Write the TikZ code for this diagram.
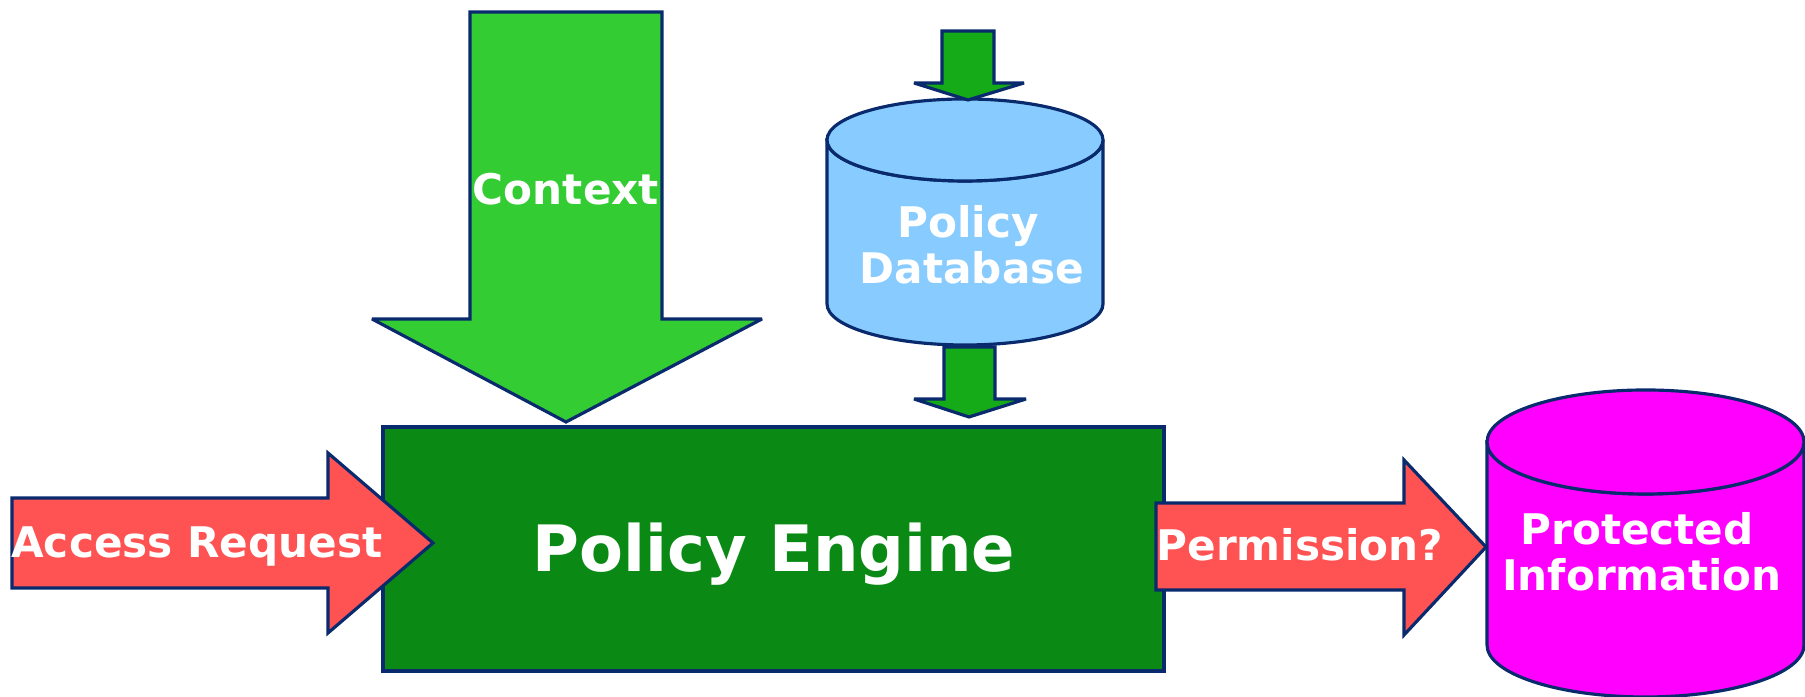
\documentclass[tikz,border=0pt]{standalone}
\usepackage{fontspec}
\setmainfont{DejaVu Sans}
\usetikzlibrary{calc}

\definecolor{edgeblue}{HTML}{0A2A6E}
\definecolor{enginegreen}{HTML}{0A8A14}
\definecolor{ctxgreen}{HTML}{33CC33}
\definecolor{feedgreen}{HTML}{14AA18}
\definecolor{reqred}{HTML}{FF5252}
\definecolor{dbblue}{HTML}{88CCFF}
\definecolor{infomagenta}{HTML}{FF00FF}

\tikzset{
	outline/.style={draw=edgeblue, line width=0.9pt, line join=miter, miter limit=3},
	lbl/.style={text=white, font=\bfseries\fontsize{12}{13}\selectfont, align=center, inner sep=0pt},
}

\begin{document}
\begin{tikzpicture}
			%%%%% START %%%%%
			\useasboundingbox (0, 0) rectangle (18.05, 6.97);
			
			% engine box
			\draw[outline, fill=enginegreen] (3.83, 2.70) rectangle (11.64, 0.26);
			\coordinate (engine) at (7.74, 1.25);
			\node[lbl, font=\bfseries\fontsize{18.2}{20}\selectfont, anchor=base] (enginetxt) at (engine) {Policy Engine};
			
			% context arrow, from above
			\draw[outline, fill=ctxgreen] (4.70, 6.85) -- (6.62, 6.85) -- (6.62, 3.78) -- (7.62, 3.78)
				-- (5.66, 2.75) -- (3.72, 3.78) -- (4.70, 3.78) -- cycle;
			\node[lbl, anchor=base] (context) at (5.66, 4.92) {Context};
			
			% request arrow, from the left
			\draw[outline, fill=reqred] (0.12, 1.99) -- (3.28, 1.99) -- (3.28, 2.44) -- (4.33, 1.54)
				-- (3.28, 0.64) -- (3.28, 1.09) -- (0.12, 1.09) -- cycle;
			\node[lbl, anchor=base] (request) at (1.97, 1.39) {Access Request};
			
			% policy database
			\draw[outline, fill=dbblue] (8.27, 5.57) -- (8.27, 3.93)
				arc[start angle=180, end angle=360, x radius=1.38, y radius=0.41]
				-- (11.03, 5.57) arc[start angle=0, end angle=-180, x radius=1.38, y radius=0.41] -- cycle;
			\draw[outline, fill=dbblue] (9.65, 5.57) ellipse[x radius=1.38, y radius=0.41];
			\node[lbl, anchor=base] (dbtxt) at (9.68, 4.59) {Policy};
			\node[lbl, anchor=base] (dbtxt2) at (9.72, 4.13) {Database};
			
			% feed arrows into and out of the database
			\draw[outline, fill=feedgreen] (9.42, 6.66) -- (9.94, 6.66) -- (9.94, 6.14) -- (10.24, 6.14)
				-- (9.68, 5.97) -- (9.14, 6.14) -- (9.42, 6.14) -- cycle;
			\draw[outline, fill=feedgreen] (9.44, 3.50) -- (9.95, 3.50) -- (9.95, 2.98) -- (10.26, 2.98)
				-- (9.69, 2.80) -- (9.14, 2.98) -- (9.44, 2.98) -- cycle;
			
			% permission arrow, to the right
			\draw[outline, fill=reqred] (11.56, 1.94) -- (14.04, 1.94) -- (14.04, 2.37) -- (14.86, 1.50)
				-- (14.04, 0.62) -- (14.04, 1.07) -- (11.56, 1.07) -- cycle;
			\node[lbl, anchor=base] (permission) at (13.00, 1.36) {Permission?};
			
			% protected information store
			\draw[outline, fill=infomagenta] (14.87, 2.55) -- (14.87, 0.52)
				arc[start angle=180, end angle=360, x radius=1.585, y radius=0.52]
				-- (18.04, 2.55) arc[start angle=0, end angle=-180, x radius=1.585, y radius=0.52] -- cycle;
			\draw[outline, fill=infomagenta] (16.455, 2.55) ellipse[x radius=1.585, y radius=0.52];
			\node[lbl, anchor=base] (infotxt) at (16.37, 1.52) {Protected};
			\node[lbl, anchor=base] (infotxt2) at (16.42, 1.06) {Information};
			
			%%%%% END %%%%%
\end{tikzpicture}
\end{document}
